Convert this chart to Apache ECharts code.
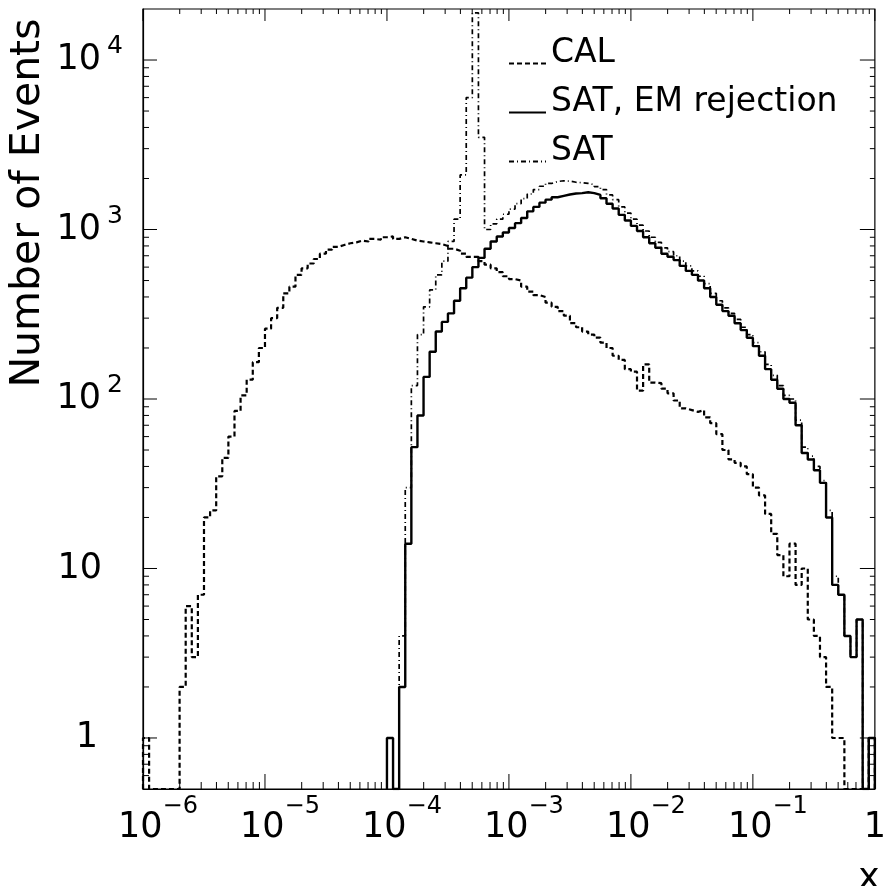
<!DOCTYPE html>
<html><head><meta charset="utf-8">
<script src="https://cdn.jsdelivr.net/npm/echarts@6/dist/echarts.min.js"></script>
<style>html,body{margin:0;padding:0;background:#fff}#c{width:889px;height:886px}</style>
</head><body><div id="c"></div>
<script>
// Histogram bin edges (log10 x)
const binEdgesLog10 = [
-6.00,-5.95,-5.90,-5.85,-5.80,-5.75,-5.70,-5.65,-5.60,-5.55,
-5.50,-5.45,-5.40,-5.35,-5.30,-5.25,-5.20,-5.15,-5.10,-5.05,
-5.00,-4.95,-4.90,-4.85,-4.80,-4.75,-4.70,-4.65,-4.60,-4.55,
-4.50,-4.45,-4.40,-4.35,-4.30,-4.25,-4.20,-4.15,-4.10,-4.05,
-4.00,-3.95,-3.90,-3.85,-3.80,-3.75,-3.70,-3.65,-3.60,-3.55,
-3.50,-3.45,-3.40,-3.35,-3.30,-3.25,-3.20,-3.15,-3.10,-3.05,
-3.00,-2.95,-2.90,-2.85,-2.80,-2.75,-2.70,-2.65,-2.60,-2.55,
-2.50,-2.45,-2.40,-2.35,-2.30,-2.25,-2.20,-2.15,-2.10,-2.05,
-2.00,-1.95,-1.90,-1.85,-1.80,-1.75,-1.70,-1.65,-1.60,-1.55,
-1.50,-1.45,-1.40,-1.35,-1.30,-1.25,-1.20,-1.15,-1.10,-1.05,
-1.00,-0.95,-0.90,-0.85,-0.80,-0.75,-0.70,-0.65,-0.60,-0.55,
-0.50,-0.45,-0.40,-0.35,-0.30,-0.25,-0.20,-0.15,-0.10,-0.05,
0.00];

// CAL counts, from bin 0
const calStartBin = 0;
const calCounts = [
1,0,0,0,0,0,2,6,3,7,
20,22,35,45,60,85,105,130,165,200,
260,300,345,420,460,540,590,630,670,720,
760,790,810,830,840,860,850,880,870,900,
910,880,900,880,860,850,840,830,820,800,
770,750,720,690,690,650,620,590,560,530,
510,500,460,430,410,400,370,350,330,310,
280,265,250,240,230,215,200,180,170,150,
145,112,160,125,124,115,108,98,88,86,
84,86,78,72,62,50,44,42,40,36,
30,27,21,16,12,9,14,8,10,5,
4,3,2,1,1,0,0,0,0,1];

// SAT, EM rejection counts, from bin 40
const satEmStartBin = 40;
const satEmCounts = [
1,0,2,14,52,80,135,190,250,285,
320,380,450,520,600,680,770,850,910,960,
1020,1090,1170,1280,1360,1440,1500,1550,1580,1610,
1630,1640,1660,1640,1600,1530,1420,1330,1220,1130,
1050,980,900,830,780,720,690,660,610,570,
540,500,450,400,360,330,310,280,255,230,
205,180,150,130,115,100,95,70,48,44,
38,32,20,8,7,4,3,5,0,1];

// SAT counts, from bin 42
const satStartBin = 42;
const satCounts = [
4,30,120,240,350,440,540,650,
850,1150,2100,6000,19000,3500,1000,1080,1150,1230,
1320,1420,1520,1620,1720,1800,1870,1920,1940,1930,
1900,1890,1870,1840,1790,1720,1600,1500,1360,1250,
1150,1060,980,900,840,780,740,700,650,610,
570,530,480,420,380,345,320,295,265,240,
215,190,160,138,120,105,100,75,52,46,
40,33,22,9,7,4,3,5,0,1];

const seriesNames = ['CAL', 'SAT, EM rejection', 'SAT'];
const xDecades = [-6, -5, -4, -3, -2, -1, 0];
const yDecades = [-1, 0, 1, 2, 3, 4];
const minorMultipliers = [2, 3, 4, 5, 6, 7, 8, 9];
const xMin = 1e-6, xMax = 1, yMin = 0.5, yMax = 2e4;

const FONT = 'DejaVu Sans';

function stepPoints(start, counts) {
  const pts = [[Math.pow(10, binEdgesLog10[start]), yMin]];
  for (let i = 0; i < counts.length; i++) {
    pts.push([Math.pow(10, binEdgesLog10[start + i]), counts[i] > 0 ? counts[i] : yMin]);
  }
  const last = counts[counts.length - 1] > 0 ? counts[counts.length - 1] : yMin;
  const endX = Math.pow(10, binEdgesLog10[start + counts.length]);
  pts.push([endX, last]);
  pts.push([endX, yMin]);
  return pts;
}

// tick marks: [x, y, kind]  kind 0 x-major, 1 x-minor, 2 y-major, 3 y-minor
const tickData = [];
xDecades.forEach(d => {
  const base = Math.pow(10, d);
  tickData.push([base, 1, 0]);
  if (d < 0) minorMultipliers.forEach(m => tickData.push([m * base, 1, 1]));
});
yDecades.forEach(d => {
  const base = Math.pow(10, d);
  if (base >= yMin && base <= yMax) tickData.push([1e-3, base, 2]);
  minorMultipliers.forEach(m => {
    const v = m * base;
    if (v > yMin && v < yMax) tickData.push([1e-3, v, 3]);
  });
});

const chart = echarts.init(document.getElementById('c'), null, {renderer: 'canvas'});
chart.setOption({
  animation: false,
  backgroundColor: '#fff',
  grid: {left: 143, right: 7, top: 9, bottom: 97, show: true, borderColor: '#000', borderWidth: 1.2, backgroundColor: 'transparent'},
  xAxis: {
    type: 'log', logBase: 10, min: xMin, max: xMax, splitNumber: 6,
    axisLine: {show: true, lineStyle: {color: '#000', width: 1.2}},
    axisTick: {show: false}, splitLine: {show: false},
    axisLabel: {
      margin: 21, color: '#000', fontFamily: FONT, showMinLabel: true, showMaxLabel: true, hideOverlap: false,
      formatter: v => {
        const e = Math.round(Math.log10(v));
        if (e === 0) return '{one|1}';
        return '{b|10}{s|\u2212' + (-e) + '}';
      },
      rich: {
        b: {fontFamily: FONT, fontSize: 35, lineHeight: 36, padding: [0, 0, 0, 30], color: '#000'},
        s: {fontFamily: FONT, fontSize: 24, lineHeight: 24, padding: [0, 0, 43, 0], color: '#000'},
        one: {fontFamily: FONT, fontSize: 35, lineHeight: 36, color: '#000'}
      }
    }
  },
  yAxis: {
    type: 'log', logBase: 10, min: yMin, max: yMax,
    axisLine: {show: true, lineStyle: {color: '#000', width: 1.2}},
    axisTick: {show: false}, splitLine: {show: false},
    axisLabel: {
      margin: 20, color: '#000', fontFamily: FONT, showMinLabel: false, showMaxLabel: false,
      formatter: v => {
        const e = Math.round(Math.log10(v));
        if (Math.abs(Math.log10(v) - e) > 0.01) return '';
        if (e === 0) return '{b1|1}';
        if (e === 1) return '{b10|10}';
        return '{b|10}{s|' + e + '}';
      },
      rich: {
        b: {fontFamily: FONT, fontSize: 35, lineHeight: 36, color: '#000'},
        s: {fontFamily: FONT, fontSize: 25, lineHeight: 25, padding: [0, 0, 27, 6], color: '#000'},
        b10: {fontFamily: FONT, fontSize: 35, lineHeight: 36, padding: [0, 21, 0, 0], color: '#000'},
        b1: {fontFamily: FONT, fontSize: 35, lineHeight: 36, padding: [0, 25, 0, 0], color: '#000'}
      }
    }
  },
  legend: {
    orient: 'vertical', left: 503, top: 32, itemWidth: 37, itemHeight: 14, itemGap: -4,
    data: seriesNames,
    itemStyle: {opacity: 0, borderWidth: 0},
    formatter: name => '{t|' + name + '}',
    textStyle: {fontFamily: FONT, fontSize: 33, lineHeight: 28, color: '#000',
      rich: {t: {fontFamily: FONT, fontSize: 33, lineHeight: 28, color: '#000', padding: [0, 0, 20, 0]}}}
  },
  graphic: [
    {type: 'text', x: 28, y: 203, rotation: Math.PI / 2,
     style: {text: 'Number of Events', font: '41px "DejaVu Sans"', fill: '#000', align: 'center', verticalAlign: 'middle'}},
    {type: 'text', x: 869, y: 879,
     style: {text: 'x', font: '36px "DejaVu Sans"', fill: '#000', align: 'center', verticalAlign: 'middle'}}
  ],
  series: [
    {name: seriesNames[0], type: 'line', step: 'end', symbol: 'none', data: stepPoints(calStartBin, calCounts),
     lineStyle: {color: '#000', width: 2.2, type: [5, 3]}, itemStyle: {color: 'rgba(0,0,0,0)'}, z: 3},
    {name: seriesNames[1], type: 'line', step: 'end', symbol: 'none', data: stepPoints(satEmStartBin, satEmCounts),
     lineStyle: {color: '#000', width: 2.4, type: 'solid'}, itemStyle: {color: 'rgba(0,0,0,0)'}, z: 4},
    {name: seriesNames[2], type: 'line', step: 'end', symbol: 'none', data: stepPoints(satStartBin, satCounts),
     lineStyle: {color: '#000', width: 1.7, type: [5, 3, 1, 3]}, itemStyle: {color: 'rgba(0,0,0,0)'}, z: 3},
    {type: 'custom', silent: true, clip: false, z: 5, data: tickData, encode: {x: 0, y: 1},
     renderItem: (params, api) => {
       const kind = api.value(2);
       const cs = params.coordSys;
       const st = {stroke: '#000', lineWidth: 1};
       if (kind < 2) {
         const px = api.coord([api.value(0), 1])[0];
         const L = kind === 0 ? 15 : 7, Lt = kind === 0 ? 12 : 5;
         const yb = cs.y + cs.height, yt = cs.y;
         return {type: 'group', children: [
           {type: 'line', shape: {x1: px, y1: yb, x2: px, y2: yb - L}, style: st},
           {type: 'line', shape: {x1: px, y1: yt, x2: px, y2: yt + Lt}, style: st}
         ]};
       } else {
         const py = api.coord([1e-3, api.value(1)])[1];
         const L = kind === 2 ? 14 : 6, Lr = kind === 2 ? 15 : 5;
         const xl = cs.x, xr = cs.x + cs.width;
         return {type: 'group', children: [
           {type: 'line', shape: {x1: xl, y1: py, x2: xl + L, y2: py}, style: st},
           {type: 'line', shape: {x1: xr, y1: py, x2: xr - Lr, y2: py}, style: st}
         ]};
       }
     }}
  ]
});
</script></body></html>
